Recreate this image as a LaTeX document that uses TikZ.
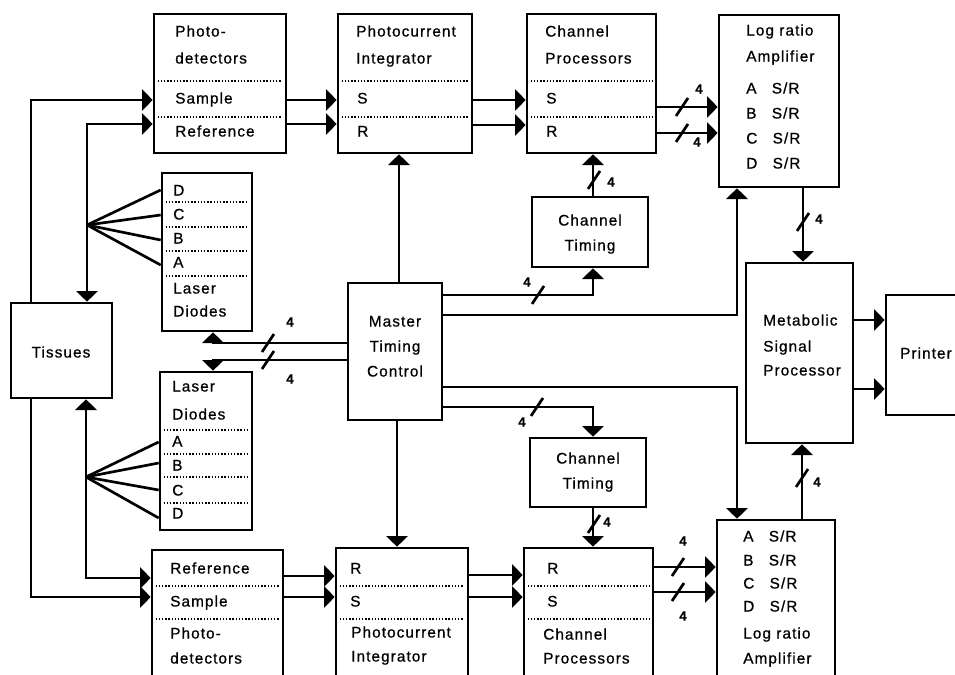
\documentclass[tikz,border=0pt]{standalone}
\usepackage{fontspec}
\setmainfont{Liberation Sans}[LetterSpace=7, FakeBold=0.8]
\usetikzlibrary{positioning,arrows.meta,fit,calc}

\tikzset{
  caixa/.style={draw, line width=2pt, inner sep=0pt},
  txt/.style={anchor=mid west, inner sep=0pt, font=\fontsize{11.5}{13}\selectfont},
  txtc/.style={anchor=mid, inner sep=0pt, font=\fontsize{11.5}{13}\selectfont},
  num/.style={anchor=mid, inner sep=0pt, font=\fontsize{10}{12}\selectfont\bfseries},
  linha/.style={line width=2pt},
  seta/.style={line width=2pt, -{Triangle[length=8pt,width=16pt]}},
  pontos/.style={line width=1.2pt, dash pattern=on 1pt off 1.4pt},
}
\newcommand{\divisao}[2]{\draw[pontos] ($(#1.west |- 0,#2)+(5,0)$) -- ($(#1.east |- 0,#2)+(-5,0)$);}
\newcommand{\corte}[1]{\draw[linha] ($(#1)+(-6,9)$) -- ($(#1)+(6,-9)$);}

\begin{document}
\begin{tikzpicture}[x=0.75pt, y=-0.75pt]
        \useasboundingbox (0,0) rectangle (955,674);
        \fill[white] (0,0) rectangle (955,674);
        \clip (0,0) rectangle (955,674);

        % Caixas
        \node[caixa, fit={(154,14) (286,153)}] (pdS) {};
        \node[caixa, fit={(338,14) (472,153)}] (piS) {};
        \node[caixa, fit={(527,14) (656,153)}] (cpS) {};
        \node[caixa, fit={(719,15) (839,187)}] (laS) {};
        \node[caixa, fit={(162,173) (252,331)}] (ldS) {};
        \node[caixa, fit={(532,197) (648,267)}] (ctS) {};
        \node[caixa, fit={(11,303) (112,398)}] (tis) {};
        \node[caixa, fit={(348,283) (442,420)}] (mtc) {};
        \node[caixa, fit={(746,263) (853,443)}] (msp) {};
        \node[caixa, fit={(886,295) (975,415)}] (prn) {};
        \node[caixa, fit={(160,372) (252,530)}] (ldI) {};
        \node[caixa, fit={(530,438) (646,507)}] (ctI) {};
        \node[caixa, fit={(152,550) (283,690)}] (pdI) {};
        \node[caixa, fit={(336,548) (468,690)}] (piI) {};
        \node[caixa, fit={(524,548) (653,690)}] (cpI) {};
        \node[caixa, fit={(717,520) (835,690)}] (laI) {};

        % Divisoes
        \divisao{pdS}{81} \divisao{pdS}{117}
        \divisao{piS}{81} \divisao{piS}{117}
        \divisao{cpS}{81} \divisao{cpS}{117}
        \divisao{ldS}{202} \divisao{ldS}{227} \divisao{ldS}{251} \divisao{ldS}{276}
        \divisao{ldI}{430} \divisao{ldI}{454} \divisao{ldI}{477} \divisao{ldI}{503}
        \divisao{pdI}{586} \divisao{pdI}{619}
        \divisao{piI}{586} \divisao{piI}{619}
        \divisao{cpI}{586} \divisao{cpI}{619}

        % Textos (metade de cima)
        \node[txt] (pdS1) at (175,33) {Photo-};
        \node[txt] (pdS2) at (175,60) {detectors};
        \node[txt] (pdS3) at (175,100) {Sample};
        \node[txt] (pdS4) at (175,133) {Reference};
        \node[txt] (piS1) at (356,33) {Photocurrent};
        \node[txt] (piS2) at (356,60) {Integrator};
        \node[txt] (piS3) at (357,100) {S};
        \node[txt] (piS4) at (357,133) {R};
        \node[txt] (cpS1) at (545,33) {Channel};
        \node[txt] (cpS2) at (545,60) {Processors};
        \node[txt] (cpS3) at (546,100) {S};
        \node[txt] (cpS4) at (546,133) {R};
        \node[txt] (laS1) at (746,32) {Log ratio};
        \node[txt] (laS2) at (746,58) {Amplifier};
        \node[txt] (laS3) at (746,90) {A\quad S/R};
        \node[txt] (laS4) at (746,115) {B\quad S/R};
        \node[txt] (laS5) at (746,140) {C\quad S/R};
        \node[txt] (laS6) at (746,165) {D\quad S/R};
        \node[txt] (ldS1) at (173,192) {D};
        \node[txt] (ldS2) at (173,216) {C};
        \node[txt] (ldS3) at (173,240) {B};
        \node[txt] (ldS4) at (173,264) {A};
        \node[txt] (ldS5) at (173,290) {Laser};
        \node[txt] (ldS6) at (173,313) {Diodes};
        \node[txtc] (ctS1) at (590,222) {Channel};
        \node[txtc] (ctS2) at (590,247) {Timing};

        % Textos (centro)
        \node[txtc] (tis1) at (61,354) {Tissues};
        \node[txtc] (mtc1) at (395,323) {Master};
        \node[txtc] (mtc2) at (395,348) {Timing};
        \node[txtc] (mtc3) at (395,373) {Control};
        \node[txt] (msp1) at (763,322) {Metabolic};
        \node[txt] (msp2) at (763,348) {Signal};
        \node[txt] (msp3) at (763,372) {Processor};
        \node[txt, anchor=mid east] (prn1) at (952,355) {Printer};

        % Textos (metade de baixo)
        \node[txt] (ldI1) at (172,388) {Laser};
        \node[txt] (ldI2) at (172,416) {Diodes};
        \node[txt] (ldI3) at (172,443) {A};
        \node[txt] (ldI4) at (172,467) {B};
        \node[txt] (ldI5) at (172,492) {C};
        \node[txt] (ldI6) at (172,515) {D};
        \node[txtc] (ctI1) at (588,460) {Channel};
        \node[txtc] (ctI2) at (588,485) {Timing};
        \node[txt] (pdI1) at (170,570) {Reference};
        \node[txt] (pdI2) at (170,603) {Sample};
        \node[txt] (pdI3) at (170,635) {Photo-};
        \node[txt] (pdI4) at (170,660) {detectors};
        \node[txt] (piI1) at (350,570) {R};
        \node[txt] (piI2) at (350,603) {S};
        \node[txt] (piI3) at (351,634) {Photocurrent};
        \node[txt] (piI4) at (351,658) {Integrator};
        \node[txt] (cpI1) at (547,570) {R};
        \node[txt] (cpI2) at (547,603) {S};
        \node[txt] (cpI3) at (543,636) {Channel};
        \node[txt] (cpI4) at (543,660) {Processors};
        \node[txt] (laI1) at (743,538) {A\quad S/R};
        \node[txt] (laI2) at (743,562) {B\quad S/R};
        \node[txt] (laI3) at (743,585) {C\quad S/R};
        \node[txt] (laI4) at (743,608) {D\quad S/R};
        \node[txt] (laI5) at (743,635) {Log ratio};
        \node[txt] (laI6) at (743,660) {Amplifier};

        % Tecidos e diodos
        \coordinate (leqS) at (87,225);
        \coordinate (leqI) at (86,477);
        \draw[seta] (tis.north -| 31,0) -- (31,100) -- (pdS.west |- 0,100);
        \draw[seta] (leqS) -- (87,124) -- (pdS.west |- 0,124);
        \draw[seta] (leqS) -- (tis.north -| leqS);
        \draw[linha] (leqS) -- (ldS.west |- 0,190);
        \draw[linha] (leqS) -- (ldS.west |- 0,215);
        \draw[linha] (leqS) -- (ldS.west |- 0,240);
        \draw[linha] (leqS) -- (ldS.west |- 0,265);
        \draw[seta] (tis.south -| 31,0) -- (31,597) -- (pdI.west |- 0,597);
        \draw[seta] (leqI) -- (86,578) -- (pdI.west |- 0,578);
        \draw[seta] (leqI) -- (tis.south -| leqI);
        \draw[linha] (leqI) -- (ldI.west |- 0,442);
        \draw[linha] (leqI) -- (ldI.west |- 0,463);
        \draw[linha] (leqI) -- (ldI.west |- 0,490);
        \draw[linha] (leqI) -- (ldI.west |- 0,518);

        % Sinais S e R
        \draw[seta] (pdS.east |- 0,100) -- (piS.west |- 0,100);
        \draw[seta] (pdS.east |- 0,124) -- (piS.west |- 0,124);
        \draw[seta] (piS.east |- 0,100) -- (cpS.west |- 0,100);
        \draw[seta] (piS.east |- 0,125) -- (cpS.west |- 0,125);
        \draw[seta] (cpS.east |- 0,107) -- (laS.west |- 0,107);
        \draw[seta] (cpS.east |- 0,133) -- (laS.west |- 0,133);
        \draw[seta] (pdI.east |- 0,576) -- (piI.west |- 0,576);
        \draw[seta] (pdI.east |- 0,597) -- (piI.west |- 0,597);
        \draw[seta] (piI.east |- 0,575) -- (cpI.west |- 0,575);
        \draw[seta] (piI.east |- 0,597) -- (cpI.west |- 0,597);
        \draw[seta] (cpI.east |- 0,567) -- (laI.west |- 0,567);
        \draw[seta] (cpI.east |- 0,592) -- (laI.west |- 0,592);

        % Temporizacao
        \draw[seta] (mtc.north -| 399,0) -- (piS.south -| 399,0);
        \draw[seta] (mtc.south -| 397,0) -- (piI.north -| 397,0);
        \draw[seta] (mtc.east |- 0,295) -- (593,295) -- (ctS.south -| 593,0);
        \draw[seta] (mtc.east |- 0,315) -- (737,315) -- (laS.south -| 737,0);
        \draw[seta] (mtc.east |- 0,387) -- (737,387) -- (laI.north -| 737,0);
        \draw[seta] (mtc.east |- 0,407) -- (593,407) -- (ctI.north -| 593,0);
        \draw[seta] (ctS.north -| 593,0) -- (cpS.south -| 593,0);
        \draw[seta] (ctI.south -| 593,0) -- (cpI.north -| 593,0);
        \draw[seta] (mtc.west |- 0,343) -- (213,343) -- (ldS.south -| 213,0);
        \draw[seta] (mtc.west |- 0,360) -- (213,360) -- (ldI.north -| 213,0);

        % Processador e impressora
        \draw[seta] (laS.south -| 803,0) -- (msp.north -| 803,0);
        \draw[seta] (laI.north -| 802,0) -- (msp.south -| 802,0);
        \draw[seta] (msp.east |- 0,320) -- (prn.west |- 0,320);
        \draw[seta] (msp.east |- 0,389) -- (prn.west |- 0,389);

        % Barramentos de 4
        \corte{268,343} \corte{268,360}
        \corte{538,295} \corte{594,180}
        \corte{682,107} \corte{682,133}
        \corte{803,222}
        \corte{537,407} \corte{594,524}
        \corte{678,567} \corte{678,592}
        \corte{802,478}
        \node[num] (n1) at (290,323) {4};
        \node[num] (n2) at (290,380) {4};
        \node[num] (n3) at (527,283) {4};
        \node[num] (n4) at (611,183) {4};
        \node[num] (n5) at (699,90) {4};
        \node[num] (n6) at (697,143) {4};
        \node[num] (n7) at (819,220) {4};
        \node[num] (n8) at (522,423) {4};
        \node[num] (n9) at (607,523) {4};
        \node[num] (n10) at (683,542) {4};
        \node[num] (n11) at (683,617) {4};
        \node[num] (n12) at (817,483) {4};
    \end{tikzpicture}
\end{document}
